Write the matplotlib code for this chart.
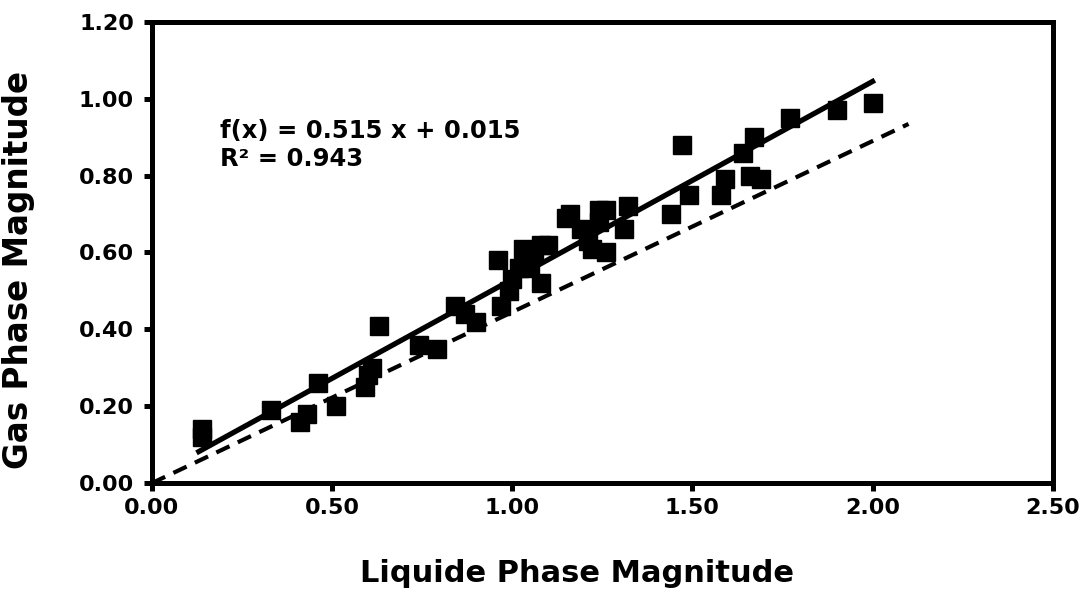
#!/usr/bin/env python3
import matplotlib
matplotlib.use("Agg")
import matplotlib.pyplot as plt
import numpy as np

# Measured magnitudes (liquid phase vs gas phase)
liquid = [0.14, 0.14, 0.33, 0.41, 0.43, 0.46, 0.51, 0.59, 0.60, 0.61,
          0.63, 0.74, 0.79, 0.84, 0.87, 0.90, 0.96, 0.97, 0.99, 1.00,
          1.02, 1.03, 1.05, 1.06, 1.08, 1.08, 1.10, 1.15, 1.16, 1.19,
          1.21, 1.22, 1.24, 1.24, 1.26, 1.26, 1.31, 1.32, 1.44, 1.47,
          1.49, 1.58, 1.59, 1.64, 1.66, 1.67, 1.69, 1.77, 1.90, 2.00]
gas = [0.14, 0.12, 0.19, 0.16, 0.18, 0.26, 0.20, 0.25, 0.28, 0.30,
       0.41, 0.36, 0.35, 0.46, 0.44, 0.42, 0.58, 0.46, 0.50, 0.53,
       0.56, 0.61, 0.56, 0.60, 0.62, 0.52, 0.62, 0.69, 0.70, 0.66,
       0.63, 0.61, 0.71, 0.68, 0.71, 0.60, 0.66, 0.72, 0.70, 0.88,
       0.75, 0.75, 0.79, 0.86, 0.80, 0.90, 0.79, 0.95, 0.97, 0.99]

# Linear trend line
slope, intercept, r2 = 0.515, 0.015, 0.943
# Reference line through the origin
ref_slope = 0.445

x_ticks = [0.0, 0.5, 1.0, 1.5, 2.0, 2.5]
y_ticks = [0.0, 0.2, 0.4, 0.6, 0.8, 1.0, 1.2]

plt.rcParams['font.family'] = ['DejaVu Sans']
plt.rcParams['font.weight'] = 'bold'

fig = plt.figure(figsize=(10.8, 5.92), dpi=100)
ax = fig.add_axes([0.1407, 0.184, 0.834, 0.779])

ax.plot(liquid, gas, 's', color='black', markersize=12.5, zorder=3)

xf = np.array([0.13, 2.0])
ax.plot(xf, slope * xf + intercept, color='black', linewidth=3.8, zorder=4)

xr = np.array([0.0, 2.1])
ax.plot(xr, ref_slope * xr, color='black', linewidth=3.0,
        linestyle=(0, (3.5, 2.2)), zorder=4)

ax.text(0.19, 0.948, f"f(x) = {slope:.3f} x + {intercept:.3f}\nR² = {r2:.3f}",
        fontsize=17.5, fontweight='bold', ha='left', va='top',
        linespacing=1.2)

ax.set_xlim(0, 2.5)
ax.set_ylim(0, 1.2)
ax.set_xticks(x_ticks)
ax.set_yticks(y_ticks)
ax.set_xticklabels([f"{v:.2f}" for v in x_ticks])
ax.set_yticklabels([f"{v:.2f}" for v in y_ticks])
ax.tick_params(direction='out', length=6, width=3.6, labelsize=16, pad=5)
ax.tick_params(axis='y', pad=7)

for side in ax.spines.values():
    side.set_linewidth(3.6)

ax.set_xlabel("Liquide Phase Magnitude", fontsize=22, fontweight='bold')
ax.set_ylabel("Gas Phase Magnitude", fontsize=23.5, fontweight='bold')
ax.xaxis.set_label_coords(0.472, -0.165)
ax.yaxis.set_label_coords(-0.13, 0.462)

fig.savefig("out.png", dpi=100)
